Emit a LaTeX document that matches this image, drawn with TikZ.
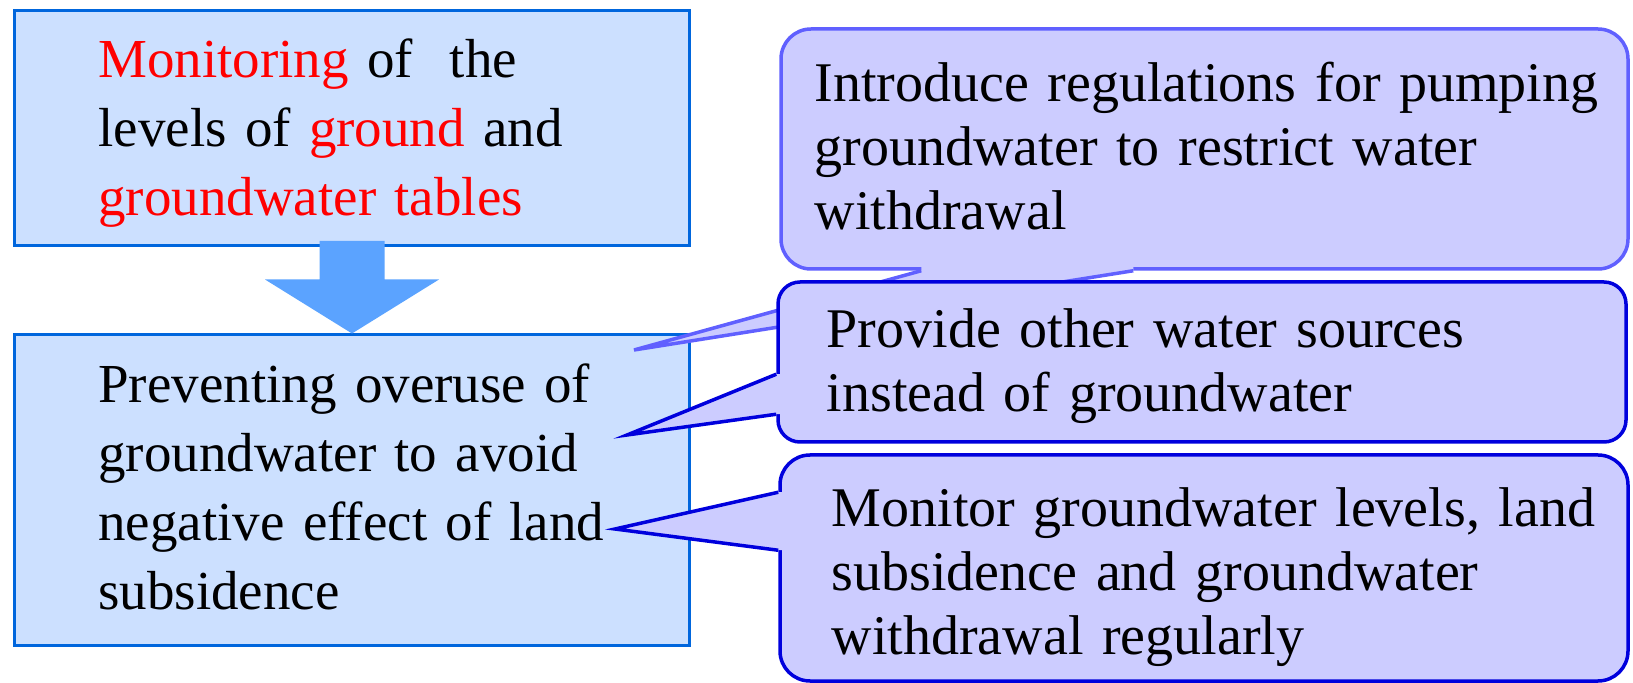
\documentclass[tikz,border=0pt]{standalone}
\usepackage{fontspec}
\setmainfont{Liberation Serif}
\usetikzlibrary{positioning}
\definecolor{boxblue}{RGB}{204,224,255}
\definecolor{edgeblue}{RGB}{0,102,221}
\definecolor{arrowblue}{RGB}{91,163,255}
\definecolor{callfill}{RGB}{204,204,255}
\definecolor{callsoft}{RGB}{96,96,255}
\definecolor{calldark}{RGB}{0,0,221}

\begin{document}
\begin{tikzpicture}[
  x=0.5pt, y=-0.5pt,
  box/.style={draw=edgeblue, line width=1.5pt, fill=boxblue, minimum width=337.5pt, inner sep=0pt},
  callout/.style={fill=callfill, line width=1.75pt, inner sep=0pt, rounded corners=15pt},
  txt/.style={anchor=base west, align=left, inner sep=0pt, text width=300pt, font=\fontsize{27.5}{34.5}\selectfont},
  calltxt/.style={txt, text width=400pt, font=\fontsize{28}{32}\selectfont},
  pointer/.style={line width=1.75pt, line join=miter}
]
\useasboundingbox (0,0) rectangle (1633,683);

% left column
\node[box, minimum height=117.5pt] (topbox) at (352,128) {};
\node[box, minimum height=155.5pt] (lowbox) at (352,490.5) {};
\fill[arrowblue] ([shift={(-32.5,-6)}]topbox.south) -- ([shift={(32.5,-6)}]topbox.south)
  -- ([shift={(32.5,-54)}]lowbox.north) -- ([shift={(87,-54)}]lowbox.north) -- (lowbox.north)
  -- ([shift={(-87,-54)}]lowbox.north) -- ([shift={(-32.5,-54)}]lowbox.north) -- cycle;

% callouts
\node[callout, draw=callsoft, minimum width=423.5pt, minimum height=120pt] (call1) at (1204.5,149) {};
\coordinate (tip1) at (634,350);
\fill[callfill] ([shift={(142,-4)}]call1.south west) -- ([shift={(142,0)}]call1.south west) -- (tip1)
  -- ([shift={(354,0)}]call1.south west) -- ([shift={(354,-4)}]call1.south west) -- cycle;
\draw[pointer, callsoft] ([shift={(142,0)}]call1.south west) -- (tip1) -- ([shift={(354,0)}]call1.south west);

\node[callout, draw=calldark, rounded corners=11pt, minimum width=424pt, minimum height=80pt] (call2) at (1202,362) {};
\coordinate (tip2) at (627,435);
\fill[callfill] ([shift={(4,94)}]call2.north west) -- ([shift={(0,94)}]call2.north west) -- (tip2)
  -- ([shift={(0,134)}]call2.north west) -- ([shift={(4,134)}]call2.north west) -- cycle;
\draw[pointer, calldark] ([shift={(0,94)}]call2.north west) -- (tip2) -- ([shift={(0,134)}]call2.north west);

\node[callout, draw=calldark, minimum width=424pt, minimum height=113pt] (call3) at (1204,568) {};
\coordinate (tip3) at (615,529);
\fill[callfill] ([shift={(4,39)}]call3.north west) -- ([shift={(0,39)}]call3.north west) -- (tip3)
  -- ([shift={(0,97)}]call3.north west) -- ([shift={(4,97)}]call3.north west) -- cycle;
\draw[pointer, calldark] ([shift={(0,39)}]call3.north west) -- (tip3) -- ([shift={(0,97)}]call3.north west);

% texts
\node[txt] (toptxt) at ([shift={(85,-50.5)}]topbox.west)
  {\textcolor{red}{Monitoring} of~\ the\\levels of \textcolor{red}{ground} and\\\textcolor{red}{groundwater tables}};
\node[txt] (lowtxt) at ([shift={(85,-87.5)}]lowbox.west)
  {Preventing overuse of\\groundwater to avoid\\negative effect of land\\subsidence};
\node[calltxt] (txt1) at ([shift={(35,-47)}]call1.west)
  {Introduce regulations for pumping\\groundwater to restrict water\\withdrawal};
\node[calltxt] (txt2) at ([shift={(50,-14)}]call2.west)
  {Provide other water sources\\instead of groundwater};
\node[calltxt] (txt3) at ([shift={(53,-41)}]call3.west)
  {Monitor groundwater levels, land\\subsidence and groundwater\\withdrawal regularly};
\end{tikzpicture}
\end{document}
